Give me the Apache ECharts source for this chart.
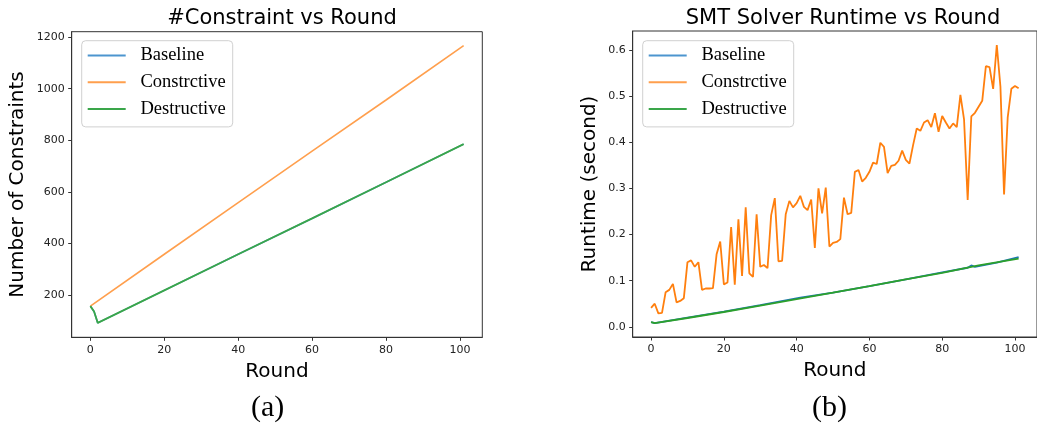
<!DOCTYPE html>
<html>
<head>
<meta charset="utf-8">
<script src="https://cdn.jsdelivr.net/npm/echarts@6/dist/echarts.min.js"></script>
<style>
  html, body { margin: 0; padding: 0; background: #fff; }
  #main { width: 1037px; height: 431px; }
</style>
</head>
<body>
<div id="main"></div>
<script>
// ---- data ----
const seriesNames = ['Baseline', 'Constrctive', 'Destructive'];
const roundTicks = [0, 20, 40, 60, 80, 100];
const countTicks = [200, 400, 600, 800, 1000, 1200];
const runtimeTicks = [0, 0.1, 0.2, 0.3, 0.4, 0.5, 0.6];

// (a) number of constraints, [round, count]
const countBaseline = [[0, 157], [1, 136], [2, 92], [20, 218], [40, 358], [60, 497], [80, 637], [101, 785]];
const countConstr = [[0, 157], [20, 358], [40, 558], [60, 758], [80, 956], [101, 1167]];
const countDestr = [[0, 157], [1, 136], [2, 92], [20, 218], [40, 358], [60, 497], [80, 637], [101, 785]];

// (b) solver runtime in seconds
const runtimeConstr = [
  0.041, 0.050, 0.029, 0.030, 0.075, 0.080, 0.093, 0.053, 0.056, 0.062,
  0.140, 0.144, 0.130, 0.140, 0.080, 0.083, 0.083, 0.084, 0.157, 0.185,
  0.092, 0.096, 0.216, 0.091, 0.233, 0.110, 0.259, 0.116, 0.108, 0.244,
  0.130, 0.134, 0.127, 0.242, 0.279, 0.142, 0.143, 0.244, 0.273, 0.259,
  0.268, 0.284, 0.260, 0.253, 0.276, 0.171, 0.300, 0.246, 0.302, 0.174,
  0.182, 0.184, 0.190, 0.280, 0.244, 0.247, 0.336, 0.340, 0.315, 0.323,
  0.336, 0.356, 0.353, 0.399, 0.390, 0.333, 0.349, 0.351, 0.360, 0.382,
  0.362, 0.354, 0.394, 0.430, 0.425, 0.443, 0.448, 0.433, 0.463, 0.423,
  0.457, 0.443, 0.430, 0.441, 0.433, 0.503, 0.450, 0.275, 0.456, 0.464,
  0.477, 0.490, 0.565, 0.563, 0.516, 0.611, 0.521, 0.287, 0.454, 0.516,
  0.522, 0.517
];
const runtimeBaseline = [[0, 0.010], [1, 0.008], [10, 0.020], [20, 0.033], [30, 0.047], [41, 0.063], [50, 0.074],
  [60, 0.088], [70, 0.103], [80, 0.118], [87, 0.128], [88, 0.133], [89, 0.130], [95, 0.139], [101, 0.151]];
const runtimeDestr = [[0, 0.010], [1, 0.008], [10, 0.019], [20, 0.032], [30, 0.046], [40, 0.060], [50, 0.074],
  [60, 0.088], [70, 0.103], [80, 0.117], [90, 0.133], [101, 0.148]];

const sans = 'DejaVu Sans';
const serif = 'Liberation Serif';
const frame = '#333';

function xAxisFor(gridIndex){
  return {
    type: 'value', gridIndex: gridIndex,
    min: -5.05, max: 106.05,
    name: 'Round', nameLocation: 'middle', nameGap: 24,
    nameTextStyle: { fontFamily: sans, fontSize: 20, color: '#000' },
    splitLine: { show: false },
    axisLine: { show: true, onZero: false, lineStyle: { color: frame, width: 1 } },
    axisTick: { show: true, length: 3.5, customValues: roundTicks, lineStyle: { color: frame } },
    axisLabel: { customValues: roundTicks, margin: 7, fontFamily: sans, fontSize: 11, color: '#222' }
  };
}

function legendFor(left){
  return {
    orient: 'vertical', left: left, top: 40.7,
    data: seriesNames,
    icon: 'rect',
    itemWidth: 38, itemHeight: 2, itemGap: 7.8,
    padding: [5.3, 7, 8.3, 6],
    backgroundColor: '#fff', borderColor: '#d0d0d0', borderWidth: 1, borderRadius: 4,
    textStyle: { fontFamily: serif, fontSize: 18.5, lineHeight: 18, color: '#000', padding: [0, 0, 0, 9.7] }
  };
}

const option = {
  animation: false,
  backgroundColor: '#fff',
  title: [
    { text: '#Constraint vs Round', left: 277, top: 3, textAlign: 'center',
      textStyle: { fontFamily: sans, fontSize: 21, fontWeight: 'normal', color: '#000' } },
    { text: 'SMT Solver Runtime vs Round', left: 838, top: 3, textAlign: 'center',
      textStyle: { fontFamily: sans, fontSize: 21, fontWeight: 'normal', color: '#000' } }
  ],
  legend: [legendFor(81.7), legendFor(642.7)],
  grid: [
    { left: 71.7, top: 31.7, width: 410.6, height: 305.6, show: true, borderColor: frame, borderWidth: 1 },
    { left: 632.7, top: 31, width: 410.6, height: 306, show: true, borderColor: frame, borderWidth: 1 }
  ],
  xAxis: [xAxisFor(0), xAxisFor(1)],
  yAxis: [
    {
      type: 'value', gridIndex: 0, min: 36.15, max: 1220.85,
      name: 'Number of Constraints', nameLocation: 'middle', nameGap: 44,
      nameTextStyle: { fontFamily: sans, fontSize: 20, color: '#000' },
      splitLine: { show: false },
      axisLine: { show: true, onZero: false, lineStyle: { color: frame, width: 1 } },
      axisTick: { show: true, length: 3.5, customValues: countTicks, lineStyle: { color: frame } },
      axisLabel: { customValues: countTicks, margin: 7, fontFamily: sans, fontSize: 11, color: '#222',
        formatter: function(v){ return String(v); } }
    },
    {
      type: 'value', gridIndex: 1, min: -0.0222, max: 0.6414,
      name: 'Runtime (second)', nameLocation: 'middle', nameGap: 33,
      nameTextStyle: { fontFamily: sans, fontSize: 20, color: '#000' },
      splitLine: { show: false },
      axisLine: { show: true, onZero: false, lineStyle: { color: frame, width: 1 } },
      axisTick: { show: true, length: 3.5, customValues: runtimeTicks, lineStyle: { color: frame } },
      axisLabel: { customValues: runtimeTicks, margin: 7, fontFamily: sans, fontSize: 11, color: '#222',
        formatter: function(v){ return v.toFixed(1); } }
    }
  ],
  graphic: [
    { type: 'text', left: 251, top: 393, style: { text: '(a)', font: '30px "Liberation Serif"', fill: '#000' } },
    { type: 'text', left: 812, top: 393, style: { text: '(b)', font: '30px "Liberation Serif"', fill: '#000' } }
  ],
  series: [
    { name: 'Baseline', type: 'line', xAxisIndex: 0, yAxisIndex: 0, symbol: 'none',
      data: countBaseline, color: '#4c95cf', lineStyle: { width: 1.6 } },
    { name: 'Constrctive', type: 'line', xAxisIndex: 0, yAxisIndex: 0, symbol: 'none',
      data: countConstr, color: '#ff9f4d', lineStyle: { width: 1.6 } },
    { name: 'Destructive', type: 'line', xAxisIndex: 0, yAxisIndex: 0, symbol: 'none',
      data: countDestr, color: '#3aa64a', lineStyle: { width: 1.8 } },

    { name: 'Baseline', type: 'line', xAxisIndex: 1, yAxisIndex: 1, symbol: 'none',
      data: runtimeBaseline, color: '#1f77b4', lineStyle: { width: 1.8 } },
    { name: 'Constrctive', type: 'line', xAxisIndex: 1, yAxisIndex: 1, symbol: 'none',
      data: runtimeConstr.map(function(v, i){ return [i, v]; }), color: '#ff7f0e', lineStyle: { width: 1.8 } },
    { name: 'Destructive', type: 'line', xAxisIndex: 1, yAxisIndex: 1, symbol: 'none',
      data: runtimeDestr, color: '#2ca02c', lineStyle: { width: 1.8 } }
  ]
};

const chart = echarts.init(document.getElementById('main'));
chart.setOption(option);
window.addEventListener('resize', function () {
  chart.resize();
});
</script>
</body>
</html>
